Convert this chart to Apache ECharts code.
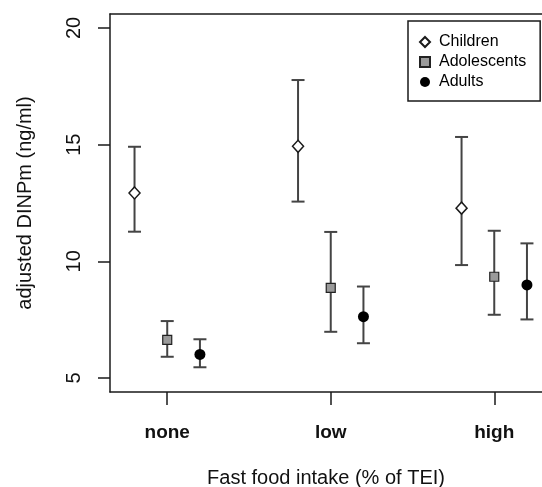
<!DOCTYPE html>
<html>
<head>
<meta charset="utf-8">
<script src="https://cdn.jsdelivr.net/npm/echarts@6/dist/echarts.min.js"></script>
<style>
  html, body { margin: 0; padding: 0; background: #fff; }
  #chart { width: 542px; height: 487px; }
</style>
</head>
<body>
<div id="chart"></div>
<script>
// categories on the x axis
var categories = ['none', 'low', 'high']
var groups = ['Children', 'Adolescents', 'Adults']
var groupOffset = [-0.2, 0, 0.2]

// means and interval ends
var childrenMean = [12.93, 14.93, 12.28]
var childrenLow = [11.27, 12.56, 9.84]
var childrenHigh = [14.91, 17.77, 15.33]

var adolescentsMean = [6.63, 8.86, 9.34]
var adolescentsLow = [5.91, 6.98, 7.71]
var adolescentsHigh = [7.44, 11.26, 11.31]

var adultsMean = [6.01, 7.63, 8.99]
var adultsLow = [5.46, 6.49, 7.51]
var adultsHigh = [6.66, 8.92, 10.77]

var yTicks = [5, 10, 15, 20]
var xTicks = [1, 2, 3]

var means = [childrenMean, adolescentsMean, adultsMean]
var lows = [childrenLow, adolescentsLow, adultsLow]
var highs = [childrenHigh, adolescentsHigh, adultsHigh]

var font = 'Liberation Sans, Arial, Helvetica, sans-serif'
var ink = '#1a1a1a'
var barInk = '#444'
var xMin = 0.65
var xMax = 3.292 // plot runs past the right edge of the picture

var symbols = [
  { symbol: 'diamond', symbolSize: [11, 12], itemStyle: { color: '#fff', borderColor: ink, borderWidth: 1.5, opacity: 1 } },
  { symbol: 'rect', symbolSize: 9, itemStyle: { color: '#9a9a9a', borderColor: '#222', borderWidth: 1.2, opacity: 1 } },
  { symbol: 'circle', symbolSize: 11, itemStyle: { color: '#000', opacity: 1 } }
]

function renderBar (params, api) {
  var x = api.value(0)
  var lo = api.coord([x, api.value(1)])
  var hi = api.coord([x, api.value(2)])
  var hw = 6.5
  var st = { stroke: barInk, lineWidth: 2 }
  return {
    type: 'group',
    children: [
      { type: 'line', shape: { x1: lo[0], y1: lo[1], x2: hi[0], y2: hi[1] }, style: st },
      { type: 'line', shape: { x1: lo[0] - hw, y1: lo[1], x2: lo[0] + hw, y2: lo[1] }, style: st },
      { type: 'line', shape: { x1: hi[0] - hw, y1: hi[1], x2: hi[0] + hw, y2: hi[1] }, style: st }
    ]
  }
}

var series = []
groups.forEach(function (g, gi) {
  var barData = categories.map(function (c, ci) {
    return [ci + 1 + groupOffset[gi], lows[gi][ci], highs[gi][ci]]
  })
  series.push({
    name: g + ' range',
    type: 'custom',
    renderItem: renderBar,
    data: barData,
    clip: false,
    z: 1,
    silent: true
  })
})
groups.forEach(function (g, gi) {
  var pts = categories.map(function (c, ci) {
    return [ci + 1 + groupOffset[gi], means[gi][ci]]
  })
  series.push(Object.assign({
    name: g,
    type: 'scatter',
    data: pts,
    z: 3
  }, symbols[gi]))
})

var chart = echarts.init(document.getElementById('chart'))
chart.setOption({
  animation: false,
  backgroundColor: '#fff',
  grid: {
    left: 110,
    top: 14,
    bottom: 95,
    right: 0,
    outerBoundsMode: 'none'
  },
  legend: {
    data: groups,
    orient: 'vertical',
    left: 408,
    top: 21,
    padding: [11, 14, 9, 11],
    itemGap: 0,
    itemWidth: 10,
    itemHeight: 10,
    borderColor: ink,
    borderWidth: 1.5,
    textStyle: {
      fontFamily: font,
      fontSize: 16,
      lineHeight: 20,
      padding: [0, 0, 0, 4],
      color: '#000'
    }
  },
  xAxis: [
    {
      type: 'value',
      min: xMin,
      max: xMax,
      name: 'Fast food intake (% of TEI)',
      nameLocation: 'middle',
      nameGap: 76,
      nameTextStyle: { fontFamily: font, fontSize: 20, color: '#111' },
      axisLine: { show: true, onZero: false, lineStyle: { color: ink, width: 1.5 } },
      splitLine: { show: false },
      axisTick: {
        show: true,
        customValues: xTicks,
        length: 13,
        lineStyle: { color: ink, width: 1.5 }
      },
      axisLabel: {
        customValues: xTicks,
        formatter: function (v) { return categories[Math.round(v) - 1] },
        margin: 31,
        fontFamily: font,
        fontWeight: 'bold',
        fontSize: 19,
        color: '#111'
      }
    },
    {
      type: 'value',
      position: 'top',
      min: xMin,
      max: xMax,
      axisLine: { show: true, onZero: false, lineStyle: { color: ink, width: 1.5 } },
      axisTick: { show: false },
      axisLabel: { show: false },
      splitLine: { show: false }
    }
  ],
  yAxis: {
    type: 'value',
    min: 4.4,
    max: 20.6,
    name: 'adjusted DINPm (ng/ml)',
    nameLocation: 'middle',
    nameGap: 75,
    nameTextStyle: { fontFamily: font, fontSize: 20, color: '#111' },
    axisLine: { show: true, onZero: false, lineStyle: { color: ink, width: 1.5 } },
    splitLine: { show: false },
    axisTick: {
      show: true,
      customValues: yTicks,
      length: 12,
      lineStyle: { color: ink, width: 1.5 }
    },
    axisLabel: {
      customValues: yTicks,
      rotate: 90,
      margin: 26,
      fontFamily: font,
      fontSize: 20,
      color: '#111'
    }
  },
  series: series
})
</script>
</body>
</html>
